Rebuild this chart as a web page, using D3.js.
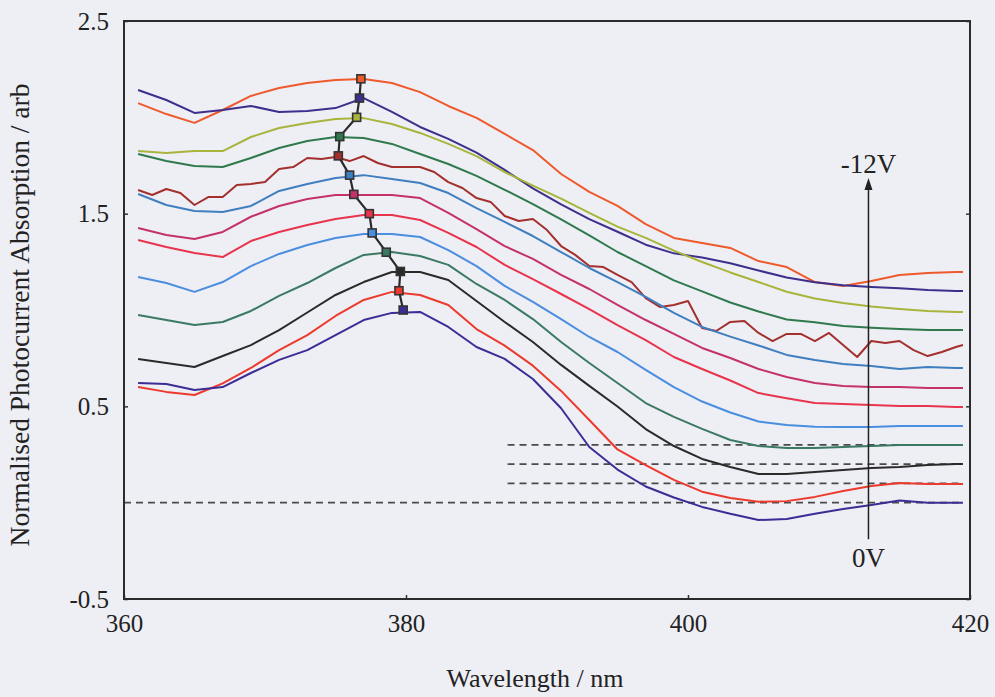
<!DOCTYPE html>
<html><head><meta charset="utf-8">
<script src="https://cdn.jsdelivr.net/npm/d3@7"></script>
<style>
html,body{margin:0;padding:0;background:#eeeef5;}
svg{display:block;}
text{font-family:"Liberation Serif","Times New Roman",serif;fill:#222;}
</style></head><body>
<svg id="chart" width="995" height="697"></svg>
<script>
// ---------------- DATA ----------------
const wavelengths = [361,363,365,367,369,371,373,375,377,379,381,383,385,387,389,391,393,395,397,399,401,403,405,407,409,411,413,415,417,419,419.5];
const wavelengthsFine = [361,362,363,364,365,366,367,368,369,370,371,372,373,374,375,376,377,378,379,380,381,382,383,384,385,386,387,388,389,390,391,392,393,394,395,396,397,398,399,400,401,402,403,404,405,406,407,408,409,410,411,412,413,414,415,416,417,418,419,419.5];

const biasLabels = ["-12V","-11V","-10V","-9V","-8V","-7V","-6V","-5V","-4V","-3V","-2V","-1V","0V"];

const vM12 = [2.074,2.017,1.971,2.038,2.111,2.152,2.178,2.194,2.199,2.178,2.131,2.059,1.997,1.914,1.830,1.706,1.613,1.540,1.446,1.374,1.348,1.322,1.254,1.223,1.145,1.125,1.151,1.182,1.192,1.197,1.197];
const vM11 = [2.142,2.090,2.023,2.038,2.059,2.028,2.033,2.048,2.100,2.028,1.950,1.888,1.817,1.727,1.631,1.548,1.472,1.406,1.339,1.294,1.272,1.243,1.205,1.169,1.144,1.128,1.120,1.113,1.104,1.099,1.099];
const vM10 = [1.825,1.815,1.825,1.825,1.898,1.945,1.971,1.991,1.996,1.965,1.919,1.862,1.799,1.716,1.646,1.578,1.504,1.433,1.374,1.308,1.249,1.195,1.145,1.095,1.060,1.036,1.018,1.005,0.995,0.990,0.990];
const vM9  = [1.810,1.773,1.747,1.742,1.789,1.841,1.877,1.898,1.893,1.862,1.810,1.758,1.696,1.624,1.550,1.470,1.387,1.301,1.228,1.154,1.097,1.039,0.992,0.951,0.936,0.917,0.908,0.902,0.896,0.896,0.896];
const vM8  = [1.623,1.597,1.628,1.607,1.545,1.587,1.587,1.649,1.654,1.664,
              1.732,1.742,1.789,1.784,1.794,1.773,1.799,1.763,1.742,1.742,
              1.742,1.716,1.664,1.633,1.581,1.561,1.488,1.462,1.472,1.415,
              1.332,1.286,1.228,1.223,1.182,1.145,1.062,1.016,1.026,1.047,
              0.907,0.891,0.938,0.943,0.881,0.839,0.876,0.876,0.839,0.881,
              0.818,0.756,0.839,0.829,0.839,0.792,0.761,0.782,0.808,0.818];
const vM7  = [1.602,1.545,1.514,1.509,1.540,1.618,1.654,1.685,1.700,1.680,1.659,1.607,1.529,1.457,1.384,1.301,1.218,1.145,1.068,0.985,0.912,0.862,0.816,0.767,0.741,0.720,0.709,0.694,0.704,0.699,0.699];
const vM6  = [1.426,1.389,1.369,1.405,1.484,1.540,1.576,1.597,1.597,1.597,1.581,1.504,1.420,1.332,1.265,1.182,1.109,1.026,0.948,0.876,0.803,0.751,0.694,0.652,0.621,0.606,0.600,0.600,0.595,0.595,0.595];
const vM5  = [1.363,1.327,1.296,1.275,1.358,1.405,1.441,1.472,1.493,1.493,1.467,1.400,1.327,1.234,1.160,1.083,1.005,0.922,0.844,0.756,0.694,0.634,0.569,0.542,0.517,0.512,0.507,0.502,0.502,0.497,0.497];
const vM4  = [1.171,1.140,1.094,1.145,1.228,1.291,1.337,1.374,1.395,1.395,1.379,1.311,1.228,1.125,1.042,0.953,0.860,0.782,0.689,0.600,0.525,0.468,0.421,0.403,0.394,0.393,0.393,0.398,0.398,0.398,0.398];
const vM3  = [0.974,0.948,0.922,0.938,0.995,1.073,1.140,1.218,1.286,1.301,1.280,1.234,1.135,1.052,0.953,0.834,0.725,0.621,0.517,0.445,0.383,0.325,0.294,0.284,0.284,0.289,0.294,0.299,0.299,0.299,0.299];
const vM2  = [0.746,0.725,0.704,0.761,0.818,0.896,0.987,1.078,1.145,1.197,1.197,1.156,1.047,0.938,0.834,0.715,0.606,0.499,0.382,0.294,0.227,0.185,0.149,0.149,0.159,0.170,0.180,0.185,0.196,0.201,0.201];
const vM1  = [0.600,0.575,0.559,0.619,0.699,0.792,0.870,0.969,1.052,1.094,1.078,1.026,0.901,0.815,0.711,0.580,0.429,0.276,0.195,0.118,0.057,0.024,0.005,0.008,0.030,0.061,0.087,0.102,0.097,0.097,0.097];
const v0   = [0.621,0.616,0.585,0.600,0.673,0.741,0.792,0.870,0.948,0.985,0.990,0.912,0.808,0.746,0.642,0.490,0.289,0.172,0.084,0.027,-0.022,-0.058,-0.090,-0.085,-0.058,-0.033,-0.012,0.011,0.000,0.000,0.000];

const seriesColors = ["#ee5a2c","#3d2f8c","#a9b43c","#2f7a4c","#a3302d","#3f7fbf","#c43268","#e8344d","#4a8ee0","#3a7a62","#2a2a2a","#ec3a2c","#3b2d96"];

const peakWavelengths = [376.8,376.7,376.5,375.3,375.2,376.0,376.3,377.4,377.6,378.6,379.6,379.5,379.8];
const peakValues = [2.2,2.1,2.0,1.9,1.8,1.7,1.6,1.5,1.4,1.3,1.2,1.1,1.0];

const refLevels = [0.3,0.2,0.1,0.0];
const xTicks = [360,380,400,420];
const yTicks = [-0.5,0.5,1.5,2.5];

// ---------------- LAYOUT ----------------
const plot = {left:124, right:970, top:21, bottom:599};
const svg = d3.select("#chart");

const x = d3.scaleLinear().domain([360,420]).range([plot.left, plot.right]);
const y = d3.scaleLinear().domain([-0.5,2.5]).range([plot.bottom, plot.top]);

const valueArrays = [vM12,vM11,vM10,vM9,vM8,vM7,vM6,vM5,vM4,vM3,vM2,vM1,v0];
const series = biasLabels.map((lab,i)=>({
  label: lab,
  xs: valueArrays[i].length === wavelengthsFine.length ? wavelengthsFine : wavelengths,
  ys: valueArrays[i],
  color: seriesColors[i]
}));

// reference dashed lines
const refStart = [387.2,387.2,387.2,360];
svg.append("g").selectAll("line").data(refLevels).join("line")
  .attr("x1",(d,i)=>x(refStart[i])).attr("x2",x(419.5))
  .attr("y1",d=>y(d)).attr("y2",d=>y(d))
  .attr("stroke","#4a4a4a").attr("stroke-width",1.6).attr("stroke-dasharray","7,5");

// curves
const line = d3.line().x(d=>x(d[0])).y(d=>y(d[1]));
svg.append("g").selectAll("path").data(series).join("path")
  .attr("d",s=>line(s.xs.map((w,j)=>[w,s.ys[j]])))
  .attr("fill","none").attr("stroke",s=>s.color).attr("stroke-width",2)
  .attr("stroke-linejoin","round");

// peak connector
const peaks = peakWavelengths.map((w,i)=>[w,peakValues[i]]);
svg.append("path").attr("d",line(peaks)).attr("fill","none")
  .attr("stroke","#2a2a2a").attr("stroke-width",2.2);
svg.append("g").selectAll("rect").data(peaks).join("rect")
  .attr("x",d=>x(d[0])-4).attr("y",d=>y(d[1])-4).attr("width",8).attr("height",8)
  .attr("fill",(d,i)=>seriesColors[i]).attr("stroke","#333").attr("stroke-width",1.6);

// axes
const fmtY = d => d3.format(".1f")(d).replace("\u2212","-");
const gx = svg.append("g").attr("transform",`translate(0,${plot.bottom})`)
  .call(d3.axisBottom(x).tickValues(xTicks).tickSizeInner(-4).tickSizeOuter(0).tickPadding(15).tickFormat(d3.format("d")));
const gy = svg.append("g").attr("transform",`translate(${plot.left},0)`)
  .call(d3.axisLeft(y).tickValues(yTicks).tickSizeInner(-4).tickSizeOuter(0).tickPadding(15).tickFormat(fmtY));
const gr = svg.append("g").attr("transform",`translate(${plot.right},0)`)
  .call(d3.axisRight(y).tickValues(yTicks).tickSizeInner(-4).tickSizeOuter(0).tickFormat(""));
[gx,gy,gr].forEach(g=>{
  g.selectAll("path").remove();
  g.selectAll("line").attr("stroke","#333").attr("stroke-width",1.5);
  g.selectAll("text").style("font-size","25px").style("font-family",'"Liberation Serif",serif').attr("fill","#222");
});
// frame
svg.append("rect").attr("x",plot.left).attr("y",plot.top)
  .attr("width",plot.right-plot.left).attr("height",plot.bottom-plot.top)
  .attr("fill","none").attr("stroke","#2b2b2b").attr("stroke-width",2);

// titles
svg.append("text").attr("x",535).attr("y",687).attr("text-anchor","middle")
  .style("font-size","26px").text("Wavelength / nm");
svg.append("text").attr("transform","translate(29,315) rotate(-90)").attr("text-anchor","middle")
  .style("font-size","27.5px").text("Normalised Photocurrent Absorption / arb");

// bias arrow annotation
const arrowNm = 412.8, arrowTop = 1.685, arrowBottom = -0.19;
const ax = x(arrowNm), ay = y(arrowTop);
svg.append("line").attr("x1",ax).attr("x2",ax)
  .attr("y1",y(arrowBottom)).attr("y2",ay+4)
  .attr("stroke","#222").attr("stroke-width",1.5);
svg.append("path").attr("d",`M${ax},${ay} L${ax-4},${ay+12} L${ax+4},${ay+12} Z`).attr("fill","#222");
svg.append("text").attr("x",ax).attr("y",ay-5).attr("text-anchor","middle")
  .style("font-size","27px").text(biasLabels[0]);
svg.append("text").attr("x",ax).attr("y",y(arrowBottom)+28).attr("text-anchor","middle")
  .style("font-size","27px").text(biasLabels[biasLabels.length-1]);
</script>
</body></html>
